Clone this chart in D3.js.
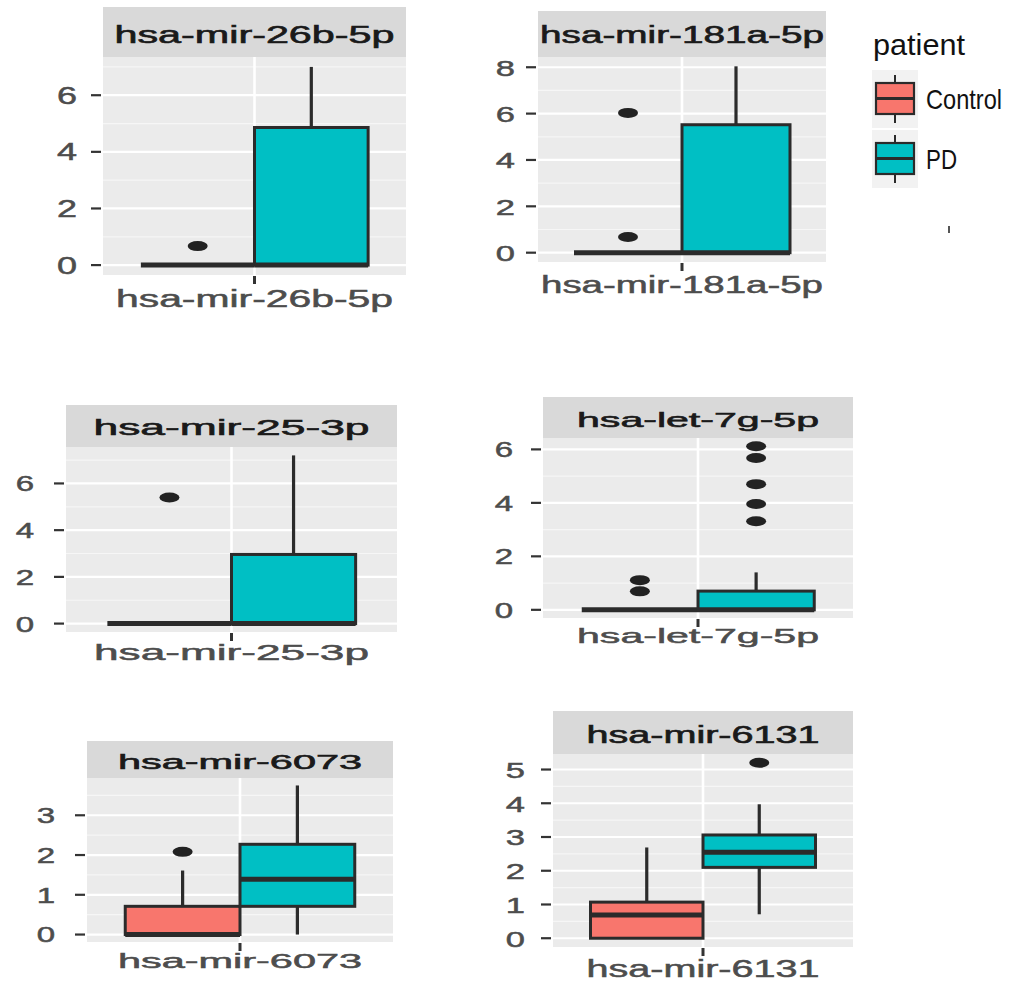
<!DOCTYPE html>
<html>
<head>
<meta charset="utf-8">
<script src="https://cdn.jsdelivr.net/npm/d3@7"></script>
<style>
  body { margin: 0; background: #fff; }
  svg { display: block; }
</style>
</head>
<body>
<div id="viz"></div>
<script>
// data
const genes = ["hsa-mir-26b-5p", "hsa-mir-181a-5p", "hsa-mir-25-3p", "hsa-let-7g-5p", "hsa-mir-6073", "hsa-mir-6131"]
const groups = ["Control", "PD"]
const groupColors = ["#F8766D", "#00BFC4"]

// [lower whisker, q1, median, q3, upper whisker]
const controlStats = [
    [0, 0, 0, 0, 0],
    [0, 0, 0, 0, 0],
    [0, 0, 0, 0, 0],
    [0, 0, 0, 0, 0],
    [0, 0, 0, 0.71, 1.61],
    [0, 0, 0.69, 1.07, 2.69]
]
const pdStats = [
    [0, 0, 0, 4.86, 7.0],
    [0, 0, 0, 5.52, 8.04],
    [0, 0, 0, 2.96, 7.2],
    [0, 0, 0, 0.7, 1.4],
    [0, 0.71, 1.39, 2.27, 3.75],
    [0.71, 2.1, 2.55, 3.06, 3.97]
]
const controlOutliers = [[0.67], [6.03, 0.68], [5.4], [1.11, 0.69], [2.08], []]
const pdOutliers = [[], [], [], [6.12, 5.68, 4.7, 3.96, 3.31], [], [5.2]]
const yTicks = [[0, 2, 4, 6], [0, 2, 4, 6, 8], [0, 2, 4, 6], [0, 2, 4, 6], [0, 1, 2, 3], [0, 1, 2, 3, 4, 5]]

// panel placement (the source picture is stretched sideways, so text gets squeezed/stretched to fit)
const panels = [
    {x0: 103, x1: 406, stripTop: 7,   top: 57,  bottom: 275, fs: 23, stripBase: 43,  stripW: 280, labBase: 307, labW: 277, gap: 26, tfs: 24},
    {x0: 538, x1: 826, stripTop: 11,  top: 57,  bottom: 262, fs: 23, stripBase: 43,  stripW: 284, labBase: 293, labW: 282, gap: 23, tfs: 23},
    {x0: 66,  x1: 397, stripTop: 405, top: 447, bottom: 632, fs: 22, stripBase: 435, stripW: 276, labBase: 660, labW: 275, gap: 32, tfs: 22},
    {x0: 543, x1: 853, stripTop: 397, top: 438, bottom: 618, fs: 21, stripBase: 427, stripW: 242, labBase: 643, labW: 242, gap: 30, tfs: 22},
    {x0: 87,  x1: 393, stripTop: 741, top: 778, bottom: 942, fs: 20, stripBase: 769, stripW: 244, labBase: 968, labW: 244, gap: 32, tfs: 22},
    {x0: 553, x1: 853, stripTop: 711, top: 754, bottom: 947, fs: 23, stripBase: 743, stripW: 233, labBase: 977, labW: 233, gap: 28, tfs: 23}
]

const width = 1015
const height = 983
const font = "'Liberation Sans', Arial, sans-serif"
const ink = "#2b2b2b"

const svg = d3.select("#viz").append("svg")
    .attr("width", width)
    .attr("height", height)

svg.append("rect").attr("width", width).attr("height", height).attr("fill", "#fff")

genes.forEach((gene, i) => {
    const p = panels[i]
    const g = svg.append("g")

    const allVals = controlStats[i].concat(pdStats[i], controlOutliers[i], pdOutliers[i])
    const lo = d3.min(allVals), hi = d3.max(allVals)
    const pad = (hi - lo) * 0.05
    const y = d3.scaleLinear().domain([lo - pad, hi + pad]).range([p.bottom, p.top])

    // one category per panel, dodged into two groups
    const x = d3.scaleBand().domain([gene]).range([p.x0, p.x1]).paddingOuter(0.5 / 3).paddingInner(0)
    const xg = d3.scaleBand().domain(groups).range([x(gene), x(gene) + x.bandwidth()]).padding(0)
    const cx = x(gene) + x.bandwidth() / 2

    // strip
    g.append("rect")
        .attr("x", p.x0).attr("y", p.stripTop)
        .attr("width", p.x1 - p.x0).attr("height", p.top - p.stripTop)
        .attr("fill", "#d9d9d9")
    g.append("text")
        .attr("x", (p.x0 + p.x1) / 2 - p.stripW / 2).attr("y", p.stripBase)
        .attr("textLength", p.stripW).attr("lengthAdjust", "spacingAndGlyphs")
        .attr("font-family", font).attr("font-size", p.fs)
        .attr("fill", "#1a1a1a").attr("stroke", "#1a1a1a").attr("stroke-width", 0.6)
        .text(gene)

    // panel background + grid
    g.append("rect")
        .attr("x", p.x0).attr("y", p.top)
        .attr("width", p.x1 - p.x0).attr("height", p.bottom - p.top)
        .attr("fill", "#ebebeb")

    const ticks = yTicks[i]
    const step = ticks[1] - ticks[0]
    const minor = [ticks[0] - step / 2].concat(ticks.map(t => t + step / 2))
        .filter(v => v >= y.domain()[0] && v <= y.domain()[1])

    g.selectAll(".minor").data(minor).enter().append("line")
        .attr("x1", p.x0).attr("x2", p.x1)
        .attr("y1", d => y(d)).attr("y2", d => y(d))
        .attr("stroke", "#f6f6f6").attr("stroke-width", 1.2)
    g.selectAll(".major").data(ticks).enter().append("line")
        .attr("x1", p.x0).attr("x2", p.x1)
        .attr("y1", d => y(d)).attr("y2", d => y(d))
        .attr("stroke", "#fff").attr("stroke-width", 2.2)
    g.append("line")
        .attr("x1", cx).attr("x2", cx).attr("y1", p.top).attr("y2", p.bottom)
        .attr("stroke", "#fff").attr("stroke-width", 2.6)

    // y axis ticks + labels
    g.selectAll(".ytick").data(ticks).enter().append("line")
        .attr("x1", p.x0 - 12).attr("x2", p.x0 - 2)
        .attr("y1", d => y(d)).attr("y2", d => y(d))
        .attr("stroke", "#333").attr("stroke-width", 2.2)
    g.selectAll(".ylab").data(ticks).enter().append("text")
        .attr("transform", d => `translate(${p.x0 - p.gap},${y(d) + p.tfs * 0.36}) scale(1.5,1)`)
        .attr("text-anchor", "end")
        .attr("font-family", font).attr("font-size", p.tfs)
        .attr("fill", "#4d4d4d").attr("stroke", "#4d4d4d").attr("stroke-width", 0.5)
        .text(d => d)

    // x tick + label
    g.append("line")
        .attr("x1", cx).attr("x2", cx).attr("y1", p.bottom + 1).attr("y2", p.bottom + 9)
        .attr("stroke", "#333").attr("stroke-width", 3)
    g.append("text")
        .attr("x", (p.x0 + p.x1) / 2 - p.labW / 2).attr("y", p.labBase)
        .attr("textLength", p.labW).attr("lengthAdjust", "spacingAndGlyphs")
        .attr("font-family", font).attr("font-size", p.fs)
        .attr("fill", "#4d4d4d").attr("stroke", "#4d4d4d").attr("stroke-width", 0.5)
        .text(gene)

    // boxes
    const boxData = [
        {grp: groups[0], s: controlStats[i], out: controlOutliers[i], col: groupColors[0]},
        {grp: groups[1], s: pdStats[i], out: pdOutliers[i], col: groupColors[1]}
    ]
    boxData.forEach(b => {
        const bx = xg(b.grp), bw = xg.bandwidth(), mx = bx + bw / 2
        const [wl, q1, med, q3, wh] = b.s
        g.append("line")
            .attr("x1", mx).attr("x2", mx).attr("y1", y(q3)).attr("y2", y(wh))
            .attr("stroke", ink).attr("stroke-width", 3.2)
        g.append("line")
            .attr("x1", mx).attr("x2", mx).attr("y1", y(wl)).attr("y2", y(q1))
            .attr("stroke", ink).attr("stroke-width", 3.2)
        g.append("rect")
            .attr("x", bx).attr("y", y(q3))
            .attr("width", bw).attr("height", y(q1) - y(q3))
            .attr("fill", b.col)
            .attr("stroke", ink).attr("stroke-width", 3)
        g.append("line")
            .attr("x1", bx).attr("x2", bx + bw).attr("y1", y(med)).attr("y2", y(med))
            .attr("stroke", ink).attr("stroke-width", 5)
        g.selectAll(null).data(b.out).enter().append("ellipse")
            .attr("cx", mx).attr("cy", d => y(d))
            .attr("rx", 10).attr("ry", 5)
            .attr("fill", "#222")
    })
})

// legend
const legend = svg.append("g")
legend.append("text")
    .attr("x", 873).attr("y", 55)
    .attr("textLength", 92).attr("lengthAdjust", "spacingAndGlyphs")
    .attr("font-family", font).attr("font-size", 30)
    .attr("fill", "#111")
    .text("patient")

const keyTop = [70, 130]
const keyLabW = [76, 31]
groups.forEach((grp, k) => {
    const t = keyTop[k]
    legend.append("rect")
        .attr("x", 872).attr("y", t).attr("width", 46).attr("height", 58)
        .attr("fill", "#f2f2f2")
    legend.append("line")
        .attr("x1", 895).attr("x2", 895).attr("y1", t + 5).attr("y2", t + 53)
        .attr("stroke", ink).attr("stroke-width", 2)
    legend.append("rect")
        .attr("x", 876).attr("y", t + 13).attr("width", 38).attr("height", 31)
        .attr("fill", groupColors[k]).attr("stroke", ink).attr("stroke-width", 2.2)
    legend.append("line")
        .attr("x1", 876).attr("x2", 914).attr("y1", t + 28.5).attr("y2", t + 28.5)
        .attr("stroke", ink).attr("stroke-width", 2.8)
    legend.append("text")
        .attr("x", 926).attr("y", t + 39)
        .attr("textLength", keyLabW[k]).attr("lengthAdjust", "spacingAndGlyphs")
        .attr("font-family", font).attr("font-size", 28)
        .attr("fill", "#111")
        .text(grp)
})

// stray mark under the legend in the source picture
legend.append("line")
    .attr("x1", 949).attr("x2", 949).attr("y1", 226).attr("y2", 233)
    .attr("stroke", "#555").attr("stroke-width", 2)
</script>
</body>
</html>
